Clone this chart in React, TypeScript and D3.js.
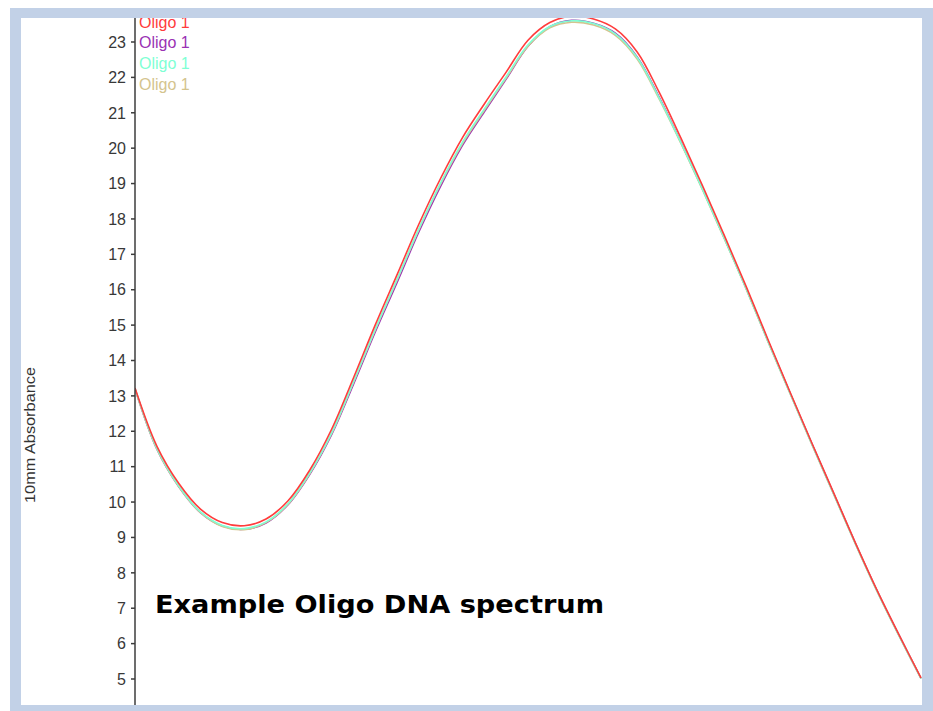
import React from 'react';
import * as d3 from 'd3';

// wavelength (nm) sampled every 2 nm
const wavelength = [
  220, 222, 224, 226, 228, 230, 232, 234, 236, 238, 240, 242, 244, 246, 248, 250, 252, 254, 256,
  258, 260, 262, 264, 266, 268, 270, 272, 274, 276, 278, 280, 282, 284, 286, 288, 290, 292,
];

const redSeries = [
  13.22, 11.58, 10.53, 9.8, 9.42, 9.33, 9.52, 10.03, 10.9, 12.05, 13.5, 15.0, 16.42, 17.85, 19.15,
  20.3, 21.25, 22.15, 23.05, 23.55, 23.73, 23.65, 23.37, 22.72, 21.59, 20.29, 18.93, 17.52, 16.08,
  14.58, 13.11, 11.67, 10.26, 8.84, 7.49, 6.24, 5.03,
];
const purpleSeries = [
  13.2, 11.5, 10.44, 9.7, 9.32, 9.23, 9.41, 9.92, 10.78, 11.9, 13.32, 14.8, 16.2, 17.63, 18.93,
  20.08, 21.03, 21.95, 22.88, 23.43, 23.61, 23.53, 23.25, 22.58, 21.45, 20.17, 18.84, 17.45, 16.03,
  14.54, 13.09, 11.65, 10.24, 8.83, 7.48, 6.23, 5.02,
];
const cyanSeries = [
  13.21, 11.52, 10.46, 9.72, 9.34, 9.25, 9.44, 9.95, 10.82, 11.95, 13.39, 14.88, 16.29, 17.72, 19.02,
  20.17, 21.11, 22.02, 22.92, 23.44, 23.6, 23.52, 23.23, 22.56, 21.43, 20.16, 18.83, 17.44, 16.02,
  14.53, 13.08, 11.64, 10.23, 8.82, 7.47, 6.22, 5.02,
];
const tanSeries = [
  13.2, 11.5, 10.44, 9.7, 9.31, 9.22, 9.42, 9.93, 10.8, 11.93, 13.37, 14.86, 16.27, 17.7, 18.99,
  20.13, 21.07, 21.98, 22.88, 23.4, 23.56, 23.48, 23.19, 22.52, 21.4, 20.14, 18.81, 17.43, 16.01,
  14.52, 13.07, 11.63, 10.22, 8.81, 7.46, 6.21, 5.01,
];

const legendNames = ['Oligo 1', 'Oligo 1', 'Oligo 1', 'Oligo 1'];
const legendColors = ['#ff3c3c', '#9a32b4', '#7fffd4', '#d4c48e'];
const yTicks = [5, 6, 7, 8, 9, 10, 11, 12, 13, 14, 15, 16, 17, 18, 19, 20, 21, 22, 23];

const W = 933;
const H = 711;
const plot = { left: 135, right: 922, top: 18, bottom: 705 };
const frame = '#c2d1e7';

export default function App() {
  const x = d3.scaleLinear().domain([220, 292]).range([135, 921]);
  const y = d3.scaleLinear().domain([5, 23]).range([679, 42]);

  const line = d3
    .line<number>()
    .x((_, i) => x(wavelength[i]))
    .y((d) => y(d))
    .curve(d3.curveCatmullRom);

  // draw order: purple underneath, red on top
  const series = [
    { values: purpleSeries, color: legendColors[1], width: 1.6 },
    { values: tanSeries, color: legendColors[3], width: 1.6 },
    { values: cyanSeries, color: legendColors[2], width: 1.6 },
    { values: redSeries, color: legendColors[0], width: 1.6 },
  ];

  return (
    <div style={{ position: 'fixed', left: 0, top: 0 }}>
      <svg width={W} height={H} style={{ display: 'block' }} fontFamily="'Liberation Sans', Arial, sans-serif">
        <rect x={0} y={0} width={W} height={H} fill="#ffffff" />
        <defs>
          <clipPath id="plotClip">
            <rect x={plot.left} y={plot.top} width={plot.right - plot.left} height={plot.bottom - plot.top} />
          </clipPath>
        </defs>

        <g clipPath="url(#plotClip)">
          {series.map((s, i) => (
            <path key={i} d={line(s.values) ?? ''} fill="none" stroke={s.color} strokeWidth={s.width} />
          ))}
        </g>

        {/* legend */}
        {legendNames.map((name, i) => (
          <text key={i} x={139} y={22 + i * 20.7} dy="0.35em" fontSize={16} fill={legendColors[i]}>
            {name}
          </text>
        ))}

        {/* y axis */}
        <line x1={plot.left} x2={plot.left} y1={plot.top} y2={plot.bottom} stroke="#3c3c3c" strokeWidth={1.5} />
        {yTicks.map((t) => (
          <g key={t} transform={`translate(0,${y(t)})`}>
            <line x1={plot.left - 4} x2={plot.left} stroke="#3c3c3c" strokeWidth={1.5} />
            <text x={plot.left - 9} dy="0.36em" textAnchor="end" fontSize={16} fill="#383838">
              {t}
            </text>
          </g>
        ))}
        <text
          transform="translate(35,435) rotate(-90)"
          textAnchor="middle"
          fontSize={14}
          fill="#333333"
          textLength={136}
          lengthAdjust="spacingAndGlyphs"
        >
          10mm Absorbance
        </text>

        <text
          x={155}
          y={613}
          fontFamily="'DejaVu Sans', sans-serif"
          fontWeight={900}
          fontSize={25}
          fill="#000000"
          textLength={449}
          lengthAdjust="spacingAndGlyphs"
        >
          Example Oligo DNA spectrum
        </text>

        {/* light blue frame */}
        <rect x={10} y={8} width={W - 10} height={10} fill={frame} />
        <rect x={10} y={8} width={11} height={H - 8} fill={frame} />
        <rect x={plot.right} y={8} width={W - plot.right} height={H - 8} fill={frame} />
        <rect x={10} y={plot.bottom} width={W - 10} height={H - plot.bottom} fill={frame} />
      </svg>
    </div>
  );
}
